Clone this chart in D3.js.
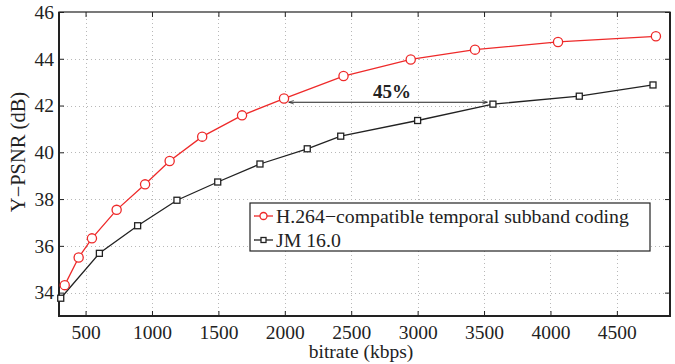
<!DOCTYPE html>
<html>
<head>
<meta charset="utf-8">
<script src="https://cdn.jsdelivr.net/npm/d3@7"></script>
<style>
  html, body { margin: 0; padding: 0; background: #fff; }
  svg { display: block; }
  text { font-family: "Liberation Serif", "Times New Roman", serif; fill: #222; }
</style>
</head>
<body>
<svg id="chart" width="675" height="364"></svg>
<script>
// Rate-distortion data: bitrate (kbps) vs. Y-PSNR (dB)
const tscBitrate = [343, 448, 548, 734, 948, 1133, 1378, 1678, 1994, 2442, 2948, 3432, 4057, 4794];
const tscPsnr    = [34.32, 35.50, 36.32, 37.54, 38.63, 39.63, 40.67, 41.58, 42.30, 43.26, 43.97, 44.39, 44.72, 44.96];
const jmBitrate  = [313, 604, 892, 1188, 1495, 1813, 2169, 2421, 3000, 3567, 4217, 4772];
const jmPsnr     = [33.76, 35.68, 36.86, 37.95, 38.73, 39.50, 40.15, 40.69, 41.36, 42.06, 42.40, 42.88];

const seriesNames = ["H.264\u2212compatible temporal subband coding", "JM 16.0"];
const xTicks = [500, 1000, 1500, 2000, 2500, 3000, 3500, 4000, 4500];
const yTicks = [34, 36, 38, 40, 42, 44, 46];

// Bitrate saving annotation: same quality reached at two bitrates
const savingLabel = "45%";
const savingFrom = 2030, savingTo = 3525, savingPsnr = 42.14;

const svg = d3.select("#chart");
const m = { left: 59, right: 5, top: 12, bottom: 48 };
const W = 675, H = 364;
const x = d3.scaleLinear().domain([300, 4900]).range([m.left, W - m.right]);
const y = d3.scaleLinear().domain([33, 46]).range([H - m.bottom, m.top]);

const red = "#ee2a2a", dark = "#222";

// Dotted grid
const grid = svg.append("g").attr("stroke", "#b8b8b8").attr("stroke-width", 1).attr("stroke-dasharray", "1,3");
grid.selectAll(".gx").data(xTicks).join("line")
  .attr("x1", d => Math.round(x(d)) + 0.5).attr("x2", d => Math.round(x(d)) + 0.5)
  .attr("y1", y.range()[0]).attr("y2", y.range()[1]);
grid.selectAll(".gy").data(yTicks.filter(d => d < 46)).join("line")
  .attr("y1", d => Math.round(y(d)) + 0.5).attr("y2", d => Math.round(y(d)) + 0.5)
  .attr("x1", x.range()[0]).attr("x2", x.range()[1]);

// Axes with inward ticks, mirrored on top and right
const tickFont = 19.5;
const fmt = d3.format("d");
const gx = svg.append("g").attr("transform", `translate(0,${y.range()[0]})`)
  .call(d3.axisBottom(x).tickValues(xTicks).tickFormat(fmt).tickSizeInner(-5).tickSizeOuter(0).tickPadding(9));
const gy = svg.append("g").attr("transform", `translate(${x.range()[0]},0)`)
  .call(d3.axisLeft(y).tickValues(yTicks).tickFormat(fmt).tickSizeInner(-5).tickSizeOuter(0).tickPadding(5));
const gxt = svg.append("g").attr("transform", `translate(0,${y.range()[1]})`)
  .call(d3.axisTop(x).tickValues(xTicks).tickSizeInner(-5).tickSizeOuter(0).tickFormat(""));
const gyr = svg.append("g").attr("transform", `translate(${x.range()[1]},0)`)
  .call(d3.axisRight(y).tickValues(yTicks).tickSizeInner(-5).tickSizeOuter(0).tickFormat(""));
[gx, gy, gxt, gyr].forEach(g => {
  g.selectAll(".domain").remove();
  g.selectAll(".tick line").attr("stroke", dark);
  g.selectAll("text").attr("font-size", tickFont).attr("font-family", "Liberation Serif").attr("fill", "#222");
});
gx.selectAll(".tick text").attr("dy", "0.71em");

// Frame
svg.append("rect").attr("x", x.range()[0]).attr("y", y.range()[1])
  .attr("width", x.range()[1] - x.range()[0]).attr("height", y.range()[0] - y.range()[1])
  .attr("fill", "none").attr("stroke", dark).attr("stroke-width", 1.2);
svg.append("path")
  .attr("d", `M${x.range()[0]},${y.range()[1]}V${y.range()[0]}H${x.range()[1]}V${y.range()[1]}`)
  .attr("fill", "none").attr("stroke", dark).attr("stroke-width", 2);

// Axis titles
svg.append("text").attr("x", 361).attr("y", 358)
  .attr("text-anchor", "middle").attr("font-size", 19.5).text("bitrate (kbps)");
svg.append("text").attr("transform", `translate(25,152) rotate(-90)`)
  .attr("text-anchor", "middle").attr("font-size", 20.5).text("Y\u2212PSNR (dB)");

// Series
const tsc = tscBitrate.map((b, i) => [b, tscPsnr[i]]);
const jm = jmBitrate.map((b, i) => [b, jmPsnr[i]]);
const line = d3.line().x(d => x(d[0])).y(d => y(d[1]));

svg.append("path").datum(jm).attr("d", line).attr("fill", "none").attr("stroke", dark).attr("stroke-width", 1.3);
svg.append("path").datum(tsc).attr("d", line).attr("fill", "none").attr("stroke", red).attr("stroke-width", 1.3);

const sq = 6;
svg.append("g").selectAll("rect").data(jm).join("rect")
  .attr("x", d => x(d[0]) - sq / 2).attr("y", d => y(d[1]) - sq / 2)
  .attr("width", sq).attr("height", sq)
  .attr("fill", "#fff").attr("stroke", dark).attr("stroke-width", 1.3);
svg.append("g").selectAll("circle").data(tsc).join("circle")
  .attr("cx", d => x(d[0])).attr("cy", d => y(d[1])).attr("r", 4.6)
  .attr("fill", "#fff").attr("stroke", red).attr("stroke-width", 1.3);

// Annotation arrow
const defs = svg.append("defs");
defs.append("marker").attr("id", "ah").attr("viewBox", "0 0 10 10").attr("refX", 10).attr("refY", 5)
  .attr("markerWidth", 7).attr("markerHeight", 5).attr("orient", "auto-start-reverse")
  .append("path").attr("d", "M0,1.5L10,5L0,8.5").attr("fill", "none").attr("stroke", dark).attr("stroke-width", 1.4);
svg.append("line")
  .attr("x1", x(savingFrom)).attr("x2", x(savingTo))
  .attr("y1", y(savingPsnr)).attr("y2", y(savingPsnr))
  .attr("stroke", dark).attr("stroke-width", 1)
  .attr("marker-start", "url(#ah)").attr("marker-end", "url(#ah)");
svg.append("text").attr("x", (x(savingFrom) + x(savingTo)) / 2 + 4).attr("y", y(savingPsnr) - 4)
  .attr("text-anchor", "middle").attr("font-size", 19).attr("font-weight", "bold").text(savingLabel);

// Legend
const lg = svg.append("g").attr("transform", "translate(250,203)");
lg.append("rect").attr("width", 400).attr("height", 48).attr("fill", "#fff").attr("stroke", dark).attr("stroke-width", 1.2);
const entries = [
  { name: seriesNames[0], color: red, shape: "circle" },
  { name: seriesNames[1], color: dark, shape: "square" }
];
entries.forEach((e, i) => {
  const cy = 13 + i * 24;
  lg.append("line").attr("x1", 4).attr("x2", 23).attr("y1", cy).attr("y2", cy).attr("stroke", e.color).attr("stroke-width", 1.3);
  if (e.shape === "circle") {
    lg.append("circle").attr("cx", 13.5).attr("cy", cy).attr("r", 3.5).attr("fill", "#fff").attr("stroke", e.color).attr("stroke-width", 1.3);
  } else {
    lg.append("rect").attr("x", 11).attr("y", cy - 2.5).attr("width", 5).attr("height", 5).attr("fill", "#fff").attr("stroke", e.color).attr("stroke-width", 1.3);
  }
  lg.append("text").attr("x", 26).attr("y", cy).attr("dy", "0.35em").attr("font-size", 19.8).text(e.name);
});
</script>
</body>
</html>
